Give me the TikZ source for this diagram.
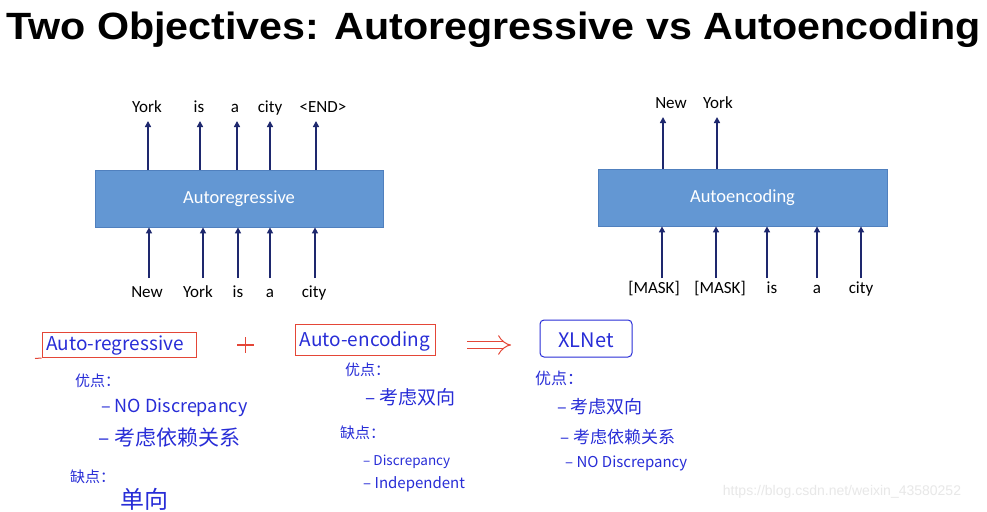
\documentclass[tikz,border=0pt]{standalone}
\usepackage{fontspec}
\setmainfont{Carlito}
\newfontfamily\titlefont{Liberation Sans}
\newfontfamily\cjk{Noto Sans CJK SC}
\newfontfamily\wmfont{Liberation Sans}
\usetikzlibrary{arrows.meta}
\definecolor{boxblue}{RGB}{99,151,211}
\definecolor{boxedge}{RGB}{80,128,190}
\definecolor{navy}{RGB}{30,40,110}
\definecolor{pen}{RGB}{40,45,215}
\definecolor{redpen}{RGB}{228,70,55}
\definecolor{wm}{RGB}{232,232,232}
\tikzset{
  modelbox/.style={draw=boxedge,line width=0.8pt,fill=boxblue,text=white,
    minimum height=57pt,inner sep=0pt,font=\fontsize{18.5}{20}\selectfont},
  word/.style={anchor=base,inner sep=0pt,font=\fontsize{17}{18}\selectfont,text=black},
  arr/.style={draw=navy,line width=1.8pt,-{Triangle[length=6pt,width=6pt]}},
  hand/.style={anchor=west,inner sep=0pt,text=pen},
  redbox/.style={draw=redpen,line width=1pt,inner sep=0pt},
  bluebox/.style={draw=pen,line width=1pt,rounded corners=4pt,inner sep=0pt},
}
\begin{document}
\begin{tikzpicture}[x=1pt,y=-1pt]
\useasboundingbox[fill=white] (0,0) rectangle (987,511);
% title
\node[anchor=base west,inner sep=0pt,font=\titlefont\bfseries\fontsize{38}{40}\selectfont]
  (title) at (6,40) {\scalebox{1.085}[1]{Two Objectives: Autoregressive vs Autoencoding}};

% ---------- Autoregressive ----------
\node[modelbox,minimum width=288pt] (ar) at (239,198.5) {Autoregressive};
\node[word] (arO1) at (147,112) {York};
\node[word] (arO2) at (199,112) {is};
\node[word] (arO3) at (235,112) {a};
\node[word] (arO4) at (270,112) {city};
\node[word] (arO5) at (323,112) {<END>};
\coordinate (arT1) at (148,121);
\coordinate (arT2) at (200,121);
\coordinate (arT3) at (237,121);
\coordinate (arT4) at (270,121);
\coordinate (arT5) at (316,121);
\foreach \i in {1,...,5}{\draw[arr] (ar.north -| arT\i) -- (arT\i);}
\node[word] (arI1) at (147,297) {New};
\node[word] (arI2) at (198,297) {York};
\node[word] (arI3) at (238,297) {is};
\node[word] (arI4) at (270,297) {a};
\node[word] (arI5) at (314,297) {city};
\coordinate (arB1) at (149,278);
\coordinate (arB2) at (203,278);
\coordinate (arB3) at (238,278);
\coordinate (arB4) at (270,278);
\coordinate (arB5) at (315,278);
\foreach \i in {1,...,5}{\draw[arr] (arB\i) -- (ar.south -| arB\i);}

% ---------- Autoencoding ----------
\node[modelbox,minimum width=289pt] (ae) at (742.5,197.5) {Autoencoding};
\node[word] (aeO1) at (671,108) {New};
\node[word] (aeO2) at (718,108) {York};
\coordinate (aeT1) at (663,117);
\coordinate (aeT2) at (717,117);
\foreach \i in {1,2}{\draw[arr] (ae.north -| aeT\i) -- (aeT\i);}
\node[word] (aeI1) at (654,293) {[MASK]};
\node[word] (aeI2) at (720,293) {[MASK]};
\node[word] (aeI3) at (772,293) {is};
\node[word] (aeI4) at (817,293) {a};
\node[word] (aeI5) at (861,293) {city};
\coordinate (aeB1) at (662,278);
\coordinate (aeB2) at (716,278);
\coordinate (aeB3) at (767,278);
\coordinate (aeB4) at (817,278);
\coordinate (aeB5) at (861,278);
\foreach \i in {1,...,5}{\draw[arr] (aeB\i) -- (ae.south -| aeB\i);}

% ---------- handwritten notes ----------
\node[redbox,minimum width=154pt,minimum height=25pt] (arH) at (119,345) {};
\node[hand,anchor=center,font=\cjk\fontsize{19}{20}\selectfont] (arHt) at (115,346) {Auto-regressive};
\coordinate (arHu) at (35,358.5);
\draw[redpen,line width=1pt] (arHu) -- (arH.south west);

\draw[redpen,line width=1.1pt] (237,345) -- (254,345) (245.5,337) -- (245.5,353);

\node[redbox,minimum width=140pt,minimum height=31pt] (aeH) at (365,339.5) {};
\node[hand,anchor=center,font=\cjk\fontsize{19}{20}\selectfont] (aeHt) at (365,341) {Auto-encoding};

\coordinate (dblS) at (467,345);
\coordinate (dblE) at (511,345);
\draw[redpen,line width=1pt,double distance=6pt,-{Implies}] (dblS) -- (dblE);

\node[bluebox,minimum width=92pt,minimum height=37pt] (xlH) at (586,338.5) {};
\node[hand,anchor=center,font=\cjk\fontsize{20}{21}\selectfont] (xlHt) at (586,340) {XLNet};

% left list
\node[hand,font=\cjk\fontsize{15}{16}\selectfont] (l1) at (75,381) {优点：};
\node[hand,font=\cjk\fontsize{18}{19}\selectfont] (l2) at (101,408) {– NO Discrepancy};
\node[hand,font=\cjk\fontsize{21}{22}\selectfont] (l3) at (98,438) {– 考虑依赖关系};
\node[hand,font=\cjk\fontsize{15}{16}\selectfont] (l4) at (70,477) {缺点：};
\node[hand,font=\cjk\fontsize{24}{26}\selectfont] (l5) at (120,499) {单向};

% middle list
\node[hand,font=\cjk\fontsize{15}{16}\selectfont] (m1) at (345,370) {优点：};
\node[hand,font=\cjk\fontsize{19}{20}\selectfont] (m2) at (365,397) {– 考虑双向};
\node[hand,font=\cjk\fontsize{15}{16}\selectfont] (m3) at (340,433) {缺点：};
\node[hand,font=\cjk\fontsize{13.5}{14}\selectfont] (m4) at (363,462) {– Discrepancy};
\node[hand,font=\cjk\fontsize{15}{16}\selectfont] (m5) at (363,484) {– Independent};

% right list
\node[hand,font=\cjk\fontsize{16}{17}\selectfont] (r1) at (535,378) {优点：};
\node[hand,font=\cjk\fontsize{18}{19}\selectfont] (r2) at (557,407) {– 考虑双向};
\node[hand,font=\cjk\fontsize{17}{18}\selectfont] (r3) at (560,437) {– 考虑依赖关系};
\node[hand,font=\cjk\fontsize{15}{16}\selectfont] (r4) at (565,463) {– NO Discrepancy};

% watermark
\node[anchor=center,inner sep=0pt,text=wm,font=\wmfont\fontsize{14}{15}\selectfont] (wmk) at (842,492) {https://blog.csdn.net/weixin\_43580252};
\end{tikzpicture}
\end{document}
